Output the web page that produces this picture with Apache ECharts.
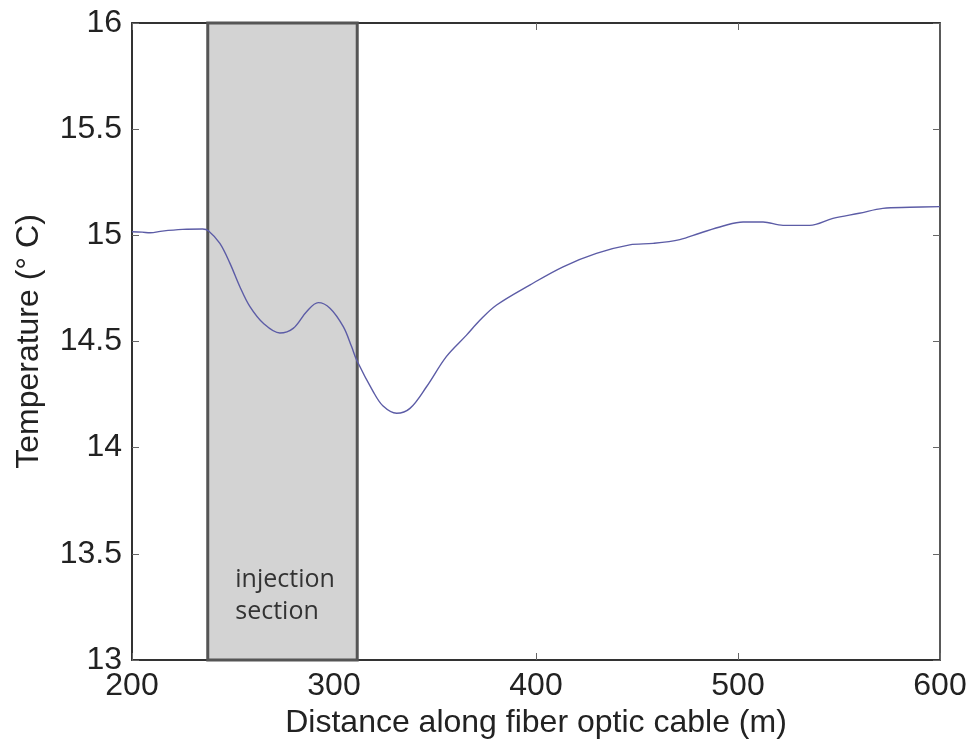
<!DOCTYPE html>
<html>
<head>
<meta charset="utf-8">
<script src="https://cdn.jsdelivr.net/npm/echarts@6/dist/echarts.min.js"></script>
<style>
  html, body { margin: 0; padding: 0; background: #fff; }
  #chart { width: 971px; height: 742px; }
</style>
</head>
<body>
<div id="chart"></div>
<script>
// distance along cable (m) and temperature (deg C)
var distance = [200, 205, 209, 215, 225, 235, 237.8, 243.5, 248.5, 253.4, 258.4, 265, 273.2, 279.8, 286.4, 292.2,
    298, 304.6, 308.7, 311.2, 319.4, 324.3, 331, 337.6, 345.8, 355.7, 365.6, 372.2, 380.5, 396.9, 413.4,
    429.9, 446.4, 458, 471.2, 481, 492.6, 502.5, 512.4, 522.3, 535.5, 547, 560, 571.7, 585, 600];
var temperature = [15.017, 15.015, 15.012, 15.02, 15.028, 15.03, 15.022, 14.962, 14.868, 14.758, 14.664, 14.586, 14.54, 14.562, 14.64, 14.683,
    14.657, 14.57, 14.476, 14.413, 14.264, 14.196, 14.162, 14.185, 14.287, 14.43, 14.53, 14.60, 14.672, 14.766, 14.852,
    14.915, 14.955, 14.962, 14.98, 15.01, 15.044, 15.063, 15.063, 15.047, 15.047, 15.08, 15.104, 15.127, 15.132, 15.135];
var injectionSection = [237.5, 311.5];
var xTicks = [200, 300, 400, 500, 600];
var yTicks = [13, 13.5, 14, 14.5, 15, 15.5, 16];

var points = [];
for (var i = 0; i < distance.length; i++) {
    points.push([distance[i], temperature[i]]);
}

var tickStyle = {show: true, inside: true, length: 7, lineStyle: {color: '#666', width: 1}};

var option = {
    animation: false,
    grid: {left: 132, top: 23, right: 31, bottom: 82, outerBoundsMode: 'none'},
    xAxis: [
        {
            type: 'value',
            min: 200,
            max: 600,
            interval: 100,
            name: 'Distance along fiber optic cable (m)',
            nameLocation: 'middle',
            nameGap: 46,
            nameTextStyle: {fontFamily: 'Liberation Sans', fontSize: 32, color: '#222'},
            axisLine: {show: true, lineStyle: {color: '#333', width: 2}},
            axisTick: tickStyle,
            axisLabel: {
                fontFamily: 'Liberation Sans', fontSize: 32, color: '#222',
                margin: 10,
                formatter: function (v) { return xTicks.indexOf(v) >= 0 ? String(v) : ''; }
            },
            splitLine: {show: false}
        },
        {
            type: 'value',
            position: 'top',
            min: 200,
            max: 600,
            interval: 100,
            axisLine: {show: true, lineStyle: {color: '#333', width: 2}},
            axisTick: tickStyle,
            axisLabel: {show: false},
            splitLine: {show: false}
        }
    ],
    yAxis: [
        {
            type: 'value',
            min: 13,
            max: 16,
            interval: 0.5,
            name: 'Temperature (° C)',
            nameLocation: 'middle',
            nameGap: 87,
            nameTextStyle: {fontFamily: 'Liberation Sans', fontSize: 32, color: '#222'},
            axisLine: {show: true, lineStyle: {color: '#333', width: 2}},
            axisTick: tickStyle,
            axisLabel: {
                fontFamily: 'Liberation Sans', fontSize: 32, color: '#222',
                margin: 10,
                formatter: function (v) { return yTicks.indexOf(v) >= 0 ? String(v) : ''; }
            },
            splitLine: {show: false}
        },
        {
            type: 'value',
            position: 'right',
            min: 13,
            max: 16,
            interval: 0.5,
            axisLine: {show: true, lineStyle: {color: '#222', width: 1.5}},
            axisTick: tickStyle,
            axisLabel: {show: false},
            splitLine: {show: false}
        }
    ],
    series: [
        {
            type: 'line',
            data: points,
            smooth: 0.35,
            showSymbol: false,
            lineStyle: {color: '#5c5ca6', width: 1.4},
            markArea: {
                silent: true,
                itemStyle: {color: '#d3d3d3', borderColor: '#555', borderWidth: 3},
                label: {
                    show: true,
                    position: [29, 542],
                    align: 'left',
                    fontFamily: 'Open Sans',
                    fontSize: 25,
                    lineHeight: 32,
                    color: '#333',
                    formatter: 'injection\nsection'
                },
                data: [[{xAxis: injectionSection[0], yAxis: 13}, {xAxis: injectionSection[1], yAxis: 16}]]
            }
        }
    ]
};

var chart = echarts.init(document.getElementById('chart'));
chart.setOption(option);
</script>
</body>
</html>
